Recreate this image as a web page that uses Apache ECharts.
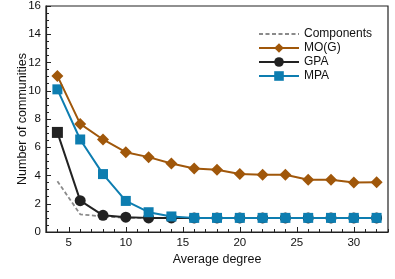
<!DOCTYPE html>
<html>
<head>
<meta charset="utf-8">
<script src="https://cdn.jsdelivr.net/npm/echarts@6/dist/echarts.min.js"></script>
<style>html,body{margin:0;padding:0;background:#fff}#c{width:395px;height:279px}</style>
</head>
<body>
<div id="c"></div>
<script>
const degrees = [4, 6, 8, 10, 12, 14, 16, 18, 20, 22, 24, 26, 28, 30, 32];
const components = [3.6, 1.25, 1.1, 1.0, 1.0, 1.0, 1.0, 1.0, 1.0, 1.0, 1.0, 1.0, 1.0, 1.0, 1.0];
const mog = [11.05, 7.65, 6.55, 5.65, 5.3, 4.85, 4.5, 4.4, 4.1, 4.05, 4.05, 3.7, 3.7, 3.5, 3.52];
const gpa = [7.05, 2.22, 1.18, 1.05, 1.0, 1.0, 1.0, 1.0, 1.0, 1.0, 1.0, 1.0, 1.0, 1.0, 1.0];
const mpa = [10.1, 6.55, 4.1, 2.2, 1.4, 1.1, 1.0, 1.0, 1.0, 1.0, 1.0, 1.0, 1.0, 1.0, 1.0];
const xMajor = [5, 10, 15, 20, 25, 30];
const xMinor = [3,4,5,6,7,8,9,10,11,12,13,14,15,16,17,18,19,20,21,22,23,24,25,26,27,28,29,30,31,32,33];

const pair = (ys) => degrees.map((d, i) => [d, ys[i]]);
const font = 'Liberation Sans, Arial, sans-serif';
const chart = echarts.init(document.getElementById('c'), null, {renderer: 'canvas'});
chart.setOption({
  animation: false,
  textStyle: {fontFamily: font},
  grid: {left: 46, right: 7, top: 6, bottom: 47, show: true, borderColor: '#222', borderWidth: 1.2, backgroundColor: 'transparent'},
  legend: {
    orient: 'vertical', left: 258, top: 27, padding: 0, itemWidth: 40, itemHeight: 12, itemGap: 0,
    textStyle: {fontFamily: font, fontSize: 12, color: '#111', lineHeight: 14},
    data: [{name: 'Components', itemStyle: {opacity: 0}}, 'MO(G)', 'GPA', 'MPA']
  },
  xAxis: [{
    type: 'value', min: 3, max: 33,
    name: 'Average degree', nameLocation: 'middle', nameGap: 21, nameMoveOverlap: false,
    nameTextStyle: {fontFamily: font, fontSize: 12.5, color: '#111'},
    axisLine: {show: true, lineStyle: {color: '#222', width: 1.2}},
    axisTick: {show: true, inside: true, length: 5, customValues: xMajor, lineStyle: {color: '#222'}},
    axisLabel: {customValues: xMajor, fontFamily: font, fontSize: 11.5, color: '#111', margin: 5},
    splitLine: {show: false}
  }, {
    type: 'value', min: 3, max: 33, position: 'bottom',
    axisLine: {show: false},
    axisTick: {show: true, inside: true, length: 3, customValues: xMinor, lineStyle: {color: '#222'}},
    axisLabel: {show: false},
    splitLine: {show: false}
  }],
  yAxis: {
    type: 'value', min: 0, max: 16, interval: 2,
    name: 'Number of communities', nameLocation: 'middle', nameGap: 17, nameMoveOverlap: false,
    nameTextStyle: {fontFamily: font, fontSize: 12.5, color: '#111'},
    axisLine: {show: true, lineStyle: {color: '#222', width: 1.2}},
    axisTick: {show: true, inside: true, length: 5, lineStyle: {color: '#222'}},
    minorTick: {show: true, splitNumber: 4, length: 3, lineStyle: {color: '#222'}},
    axisLabel: {fontFamily: font, fontSize: 11.5, color: '#111', margin: 5},
    splitLine: {show: false}
  },
  series: [{
    name: 'Components', type: 'line', data: pair(components), z: 1,
    symbol: 'none',
    lineStyle: {color: '#8a8a8a', width: 1.8, type: [4, 2.5]},
    itemStyle: {color: '#8a8a8a'}
  }, {
    name: 'GPA', type: 'line', data: pair(gpa), z: 2,
    symbol: (v, p) => p.dataIndex === 0 ? 'rect' : 'circle', symbolSize: 11,
    lineStyle: {color: '#222', width: 2}, itemStyle: {color: '#222'}
  }, {
    name: 'MPA', type: 'line', data: pair(mpa), z: 3,
    symbol: 'rect', symbolSize: 10,
    lineStyle: {color: '#0d7db0', width: 2}, itemStyle: {color: '#0d7db0'}
  }, {
    name: 'MO(G)', type: 'line', data: pair(mog), z: 4,
    symbol: 'diamond', symbolSize: 12,
    lineStyle: {color: '#a0570a', width: 2}, itemStyle: {color: '#a0570a'}
  }]
});
</script>
</body>
</html>
